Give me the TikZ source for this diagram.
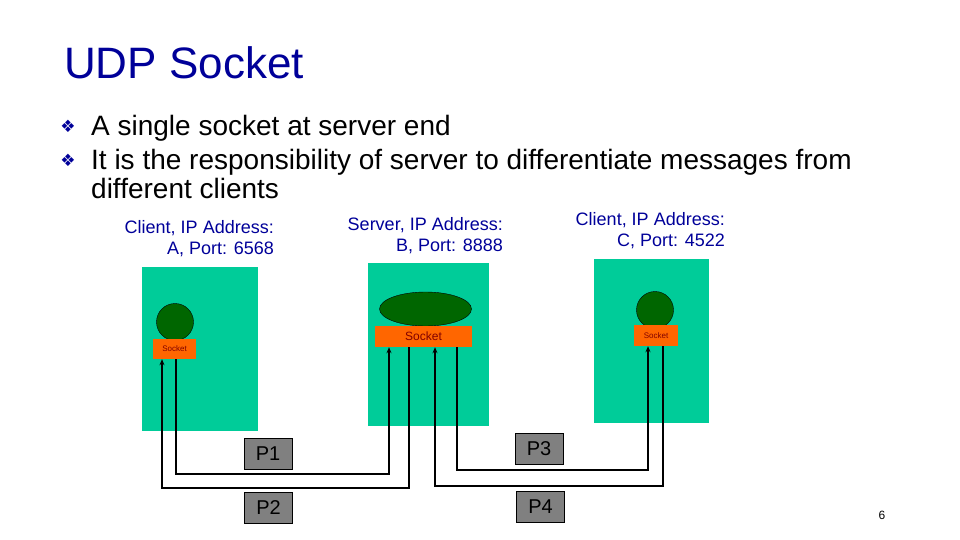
\documentclass[tikz,border=0pt]{standalone}
\usepackage{fontspec}
\setmainfont{Liberation Sans}
\newfontfamily\symfont{DejaVu Sans}
\definecolor{navy}{RGB}{0,0,153}
\definecolor{hostgreen}{RGB}{0,204,153}
\definecolor{procgreen}{RGB}{0,102,0}
\definecolor{sockorange}{RGB}{255,102,0}
\definecolor{sockred}{RGB}{128,0,0}
\definecolor{portgray}{RGB}{128,128,128}
\usetikzlibrary{arrows.meta,shapes.geometric}
\newcommand{\fsz}[1]{\fontsize{#1}{#1}\selectfont}
\tikzset{
  host/.style={fill=hostgreen, inner sep=0pt},
  proc/.style={draw=black, thin, fill=procgreen, inner sep=0pt},
  sock/.style={fill=sockorange, inner sep=0pt, text=sockred},
  port/.style={draw=black, thin, fill=portgray, inner sep=0pt,
              minimum width=48pt, minimum height=31pt, font=\fsz{20}},
  label/.style={navy, inner sep=0pt, anchor=base east, font=\fsz{18}},
  line/.style={inner sep=0pt, anchor=base west, font=\fsz{28}},
  flow/.style={-{Stealth[length=6pt,width=5pt]}, line width=2.2pt, black},
}

\begin{document}
\begin{tikzpicture}[x=1pt,y=-1pt]
  \useasboundingbox (0,0) rectangle (960,540);
  % title and bullets
  \node[navy, inner sep=0pt, anchor=base west, font=\fsz{44}] (title) at (64,79) {UDP Socket};
  \node[navy, inner sep=0pt, font=\symfont\fsz{17}] (dot1) at (68,126) {❖};
  \node[navy, inner sep=0pt, font=\symfont\fsz{17}] (dot2) at (68,160) {❖};
  \node[line] (line1) at (91,136) {A single socket at server end};
  \node[line] (line2) at (91,170) {It is the responsibility of server to differentiate messages from};
  \node[line] (line3) at (91,198) {different clients};

  % hosts
  \node[host, minimum width=116pt, minimum height=164pt] (hostA) at (200,349) {};
  \node[host, minimum width=121pt, minimum height=163pt] (hostB) at (428.5,344.5) {};
  \node[host, minimum width=115pt, minimum height=164pt] (hostC) at (651.5,341) {};
  \node[label] (labA1) at (274,233.5) {Client, IP Address:};
  \node[label] (labA2) at (274,254.5) {A, Port: 6568};
  \node[label] (labB1) at (503,230.5) {Server, IP Address:};
  \node[label] (labB2) at (503,251) {B, Port: 8888};
  \node[label] (labC1) at (725,225.5) {Client, IP Address:};
  \node[label] (labC2) at (725,246.5) {C, Port: 4522};

  % processes and sockets
  \node[proc, circle, minimum size=37pt] (procA) at (175,322) {};
  \node[proc, circle, minimum size=37pt] (procC) at (655,310) {};
  \node[proc, ellipse, minimum width=92pt, minimum height=34pt] (procB) at (425.5,309) {};
  \node[sock, minimum width=43pt, minimum height=20pt, font=\fsz{8}] (sockA) at (174.5,349) {Socket};
  \node[sock, minimum width=97pt, minimum height=21pt, font=\fsz{12}] (sockB) at (423.5,336.5) {Socket};
  \node[sock, minimum width=44pt, minimum height=21pt, font=\fsz{8}] (sockC) at (656,335.5) {Socket};

  % ports
  \node[port] (p1) at (268,453.5) {P1};
  \node[port] (p2) at (268.5,507.5) {P2};
  \node[port] (p3) at (539,448.5) {P3};
  \node[port] (p4) at (540.5,507) {P4};

  % message routes
  \coordinate (turn1) at (176,474);
  \coordinate (turn2) at (409,488);
  \coordinate (turn3) at (457,470);
  \coordinate (turn4) at (663,486);
  \draw[flow] (sockA.south -| turn1) -- (turn1) -| ([xshift=-34.5pt]sockB.south);
  \draw[flow] (sockB.south -| turn2) -- (turn2) -| ([xshift=-12.5pt]sockA.south);
  \draw[flow] (sockB.south -| turn3) -- (turn3) -| ([xshift=-8pt]sockC.south);
  \draw[flow] (sockC.south -| turn4) -- (turn4) -| ([xshift=11.5pt]sockB.south);

  \node[inner sep=0pt, font=\fsz{12}] (page) at (882,515) {6};
\end{tikzpicture}
\end{document}
